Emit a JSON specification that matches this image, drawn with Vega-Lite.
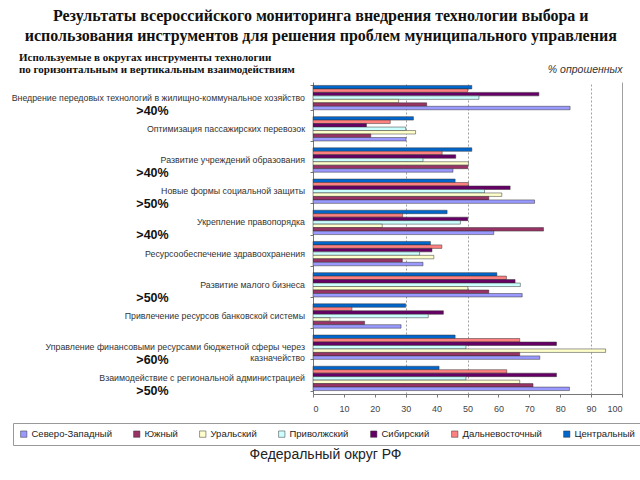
{
  "$schema": "https://vega.github.io/schema/vega-lite/v6.json",
  "padding": {"left": 0, "right": 5, "top": 8, "bottom": 5},
  "background": "white",
  "title": {
    "text": ["Результаты всероссийского мониторинга внедрения технологии выбора и", "использования  инструментов для решения проблем муниципального управления"],
    "font": "Liberation Serif",
    "fontSize": 16,
    "fontWeight": "bold",
    "lineHeight": 20,
    "color": "#111",
    "anchor": "middle",
    "offset": 8
  },
  "datasets": {
    "bars": [
      {"category": "Внедрение передовых технологий в жилищно-коммунальное хозяйство", "region": "Центральный", "value": 51.4},
      {"category": "Внедрение передовых технологий в жилищно-коммунальное хозяйство", "region": "Дальневосточный", "value": 50},
      {"category": "Внедрение передовых технологий в жилищно-коммунальное хозяйство", "region": "Сибирский", "value": 73.1},
      {"category": "Внедрение передовых технологий в жилищно-коммунальное хозяйство", "region": "Приволжский", "value": 53.7},
      {"category": "Внедрение передовых технологий в жилищно-коммунальное хозяйство", "region": "Уральский", "value": 27.7},
      {"category": "Внедрение передовых технологий в жилищно-коммунальное хозяйство", "region": "Южный", "value": 36.8},
      {"category": "Внедрение передовых технологий в жилищно-коммунальное хозяйство", "region": "Северо-Западный", "value": 83.2},
      {"category": "Оптимизация пассажирских перевозок", "region": "Центральный", "value": 32.5},
      {"category": "Оптимизация пассажирских перевозок", "region": "Дальневосточный", "value": 25},
      {"category": "Оптимизация пассажирских перевозок", "region": "Сибирский", "value": 17.3},
      {"category": "Оптимизация пассажирских перевозок", "region": "Приволжский", "value": 30},
      {"category": "Оптимизация пассажирских перевозок", "region": "Уральский", "value": 33.2},
      {"category": "Оптимизация пассажирских перевозок", "region": "Южный", "value": 18.7},
      {"category": "Оптимизация пассажирских перевозок", "region": "Северо-Западный", "value": 30.1},
      {"category": "Развитие учреждений образования", "region": "Центральный", "value": 51.4},
      {"category": "Развитие учреждений образования", "region": "Дальневосточный", "value": 41.8},
      {"category": "Развитие учреждений образования", "region": "Сибирский", "value": 46.2},
      {"category": "Развитие учреждений образования", "region": "Приволжский", "value": 35.6},
      {"category": "Развитие учреждений образования", "region": "Уральский", "value": 50.3},
      {"category": "Развитие учреждений образования", "region": "Южный", "value": 50.1},
      {"category": "Развитие учреждений образования", "region": "Северо-Западный", "value": 45.3},
      {"category": "Новые формы социальной защиты", "region": "Центральный", "value": 46},
      {"category": "Новые формы социальной защиты", "region": "Дальневосточный", "value": 50.3},
      {"category": "Новые формы социальной защиты", "region": "Сибирский", "value": 63.8},
      {"category": "Новые формы социальной защиты", "region": "Приволжский", "value": 55.5},
      {"category": "Новые формы социальной защиты", "region": "Уральский", "value": 61.1},
      {"category": "Новые формы социальной защиты", "region": "Южный", "value": 56.9},
      {"category": "Новые формы социальной защиты", "region": "Северо-Западный", "value": 71.7},
      {"category": "Укрепление правопорядка", "region": "Центральный", "value": 43.4},
      {"category": "Укрепление правопорядка", "region": "Дальневосточный", "value": 29},
      {"category": "Укрепление правопорядка", "region": "Сибирский", "value": 50.1},
      {"category": "Укрепление правопорядка", "region": "Приволжский", "value": 47.7},
      {"category": "Укрепление правопорядка", "region": "Уральский", "value": 22.4},
      {"category": "Укрепление правопорядка", "region": "Южный", "value": 74.6},
      {"category": "Укрепление правопорядка", "region": "Северо-Западный", "value": 58.5},
      {"category": "Ресурсообеспечение здравоохранения", "region": "Центральный", "value": 38},
      {"category": "Ресурсообеспечение здравоохранения", "region": "Дальневосточный", "value": 41.7},
      {"category": "Ресурсообеспечение здравоохранения", "region": "Сибирский", "value": 38.5},
      {"category": "Ресурсообеспечение здравоохранения", "region": "Приволжский", "value": 34.5},
      {"category": "Ресурсообеспечение здравоохранения", "region": "Уральский", "value": 39.1},
      {"category": "Ресурсообеспечение здравоохранения", "region": "Южный", "value": 28.9},
      {"category": "Ресурсообеспечение здравоохранения", "region": "Северо-Западный", "value": 35.6},
      {"category": "Развитие малого бизнеса", "region": "Центральный", "value": 59.5},
      {"category": "Развитие малого бизнеса", "region": "Дальневосточный", "value": 62.6},
      {"category": "Развитие малого бизнеса", "region": "Сибирский", "value": 65.4},
      {"category": "Развитие малого бизнеса", "region": "Приволжский", "value": 67.1},
      {"category": "Развитие малого бизнеса", "region": "Уральский", "value": 50.1},
      {"category": "Развитие малого бизнеса", "region": "Южный", "value": 56.9},
      {"category": "Развитие малого бизнеса", "region": "Северо-Западный", "value": 67.7},
      {"category": "Привлечение ресурсов банковской системы", "region": "Центральный", "value": 30},
      {"category": "Привлечение ресурсов банковской системы", "region": "Дальневосточный", "value": 12.6},
      {"category": "Привлечение ресурсов банковской системы", "region": "Сибирский", "value": 42.2},
      {"category": "Привлечение ресурсов банковской системы", "region": "Приволжский", "value": 37.3},
      {"category": "Привлечение ресурсов банковской системы", "region": "Уральский", "value": 5.5},
      {"category": "Привлечение ресурсов банковской системы", "region": "Южный", "value": 16.7},
      {"category": "Привлечение ресурсов банковской системы", "region": "Северо-Западный", "value": 28.5},
      {"category": "Управление финансовыми ресурсами бюджетной сферы через\nказначейство", "region": "Центральный", "value": 46},
      {"category": "Управление финансовыми ресурсами бюджетной сферы через\nказначейство", "region": "Дальневосточный", "value": 66.9},
      {"category": "Управление финансовыми ресурсами бюджетной сферы через\nказначейство", "region": "Сибирский", "value": 78.8},
      {"category": "Управление финансовыми ресурсами бюджетной сферы через\nказначейство", "region": "Приволжский", "value": 49.5},
      {"category": "Управление финансовыми ресурсами бюджетной сферы через\nказначейство", "region": "Уральский", "value": 94.7},
      {"category": "Управление финансовыми ресурсами бюджетной сферы через\nказначейство", "region": "Южный", "value": 66.9},
      {"category": "Управление финансовыми ресурсами бюджетной сферы через\nказначейство", "region": "Северо-Западный", "value": 73.4},
      {"category": "Взаимодействие с региональной администрацией", "region": "Центральный", "value": 40.8},
      {"category": "Взаимодействие с региональной администрацией", "region": "Дальневосточный", "value": 62.7},
      {"category": "Взаимодействие с региональной администрацией", "region": "Сибирский", "value": 78.8},
      {"category": "Взаимодействие с региональной администрацией", "region": "Приволжский", "value": 49.5},
      {"category": "Взаимодействие с региональной администрацией", "region": "Уральский", "value": 66.9},
      {"category": "Взаимодействие с региональной администрацией", "region": "Южный", "value": 71.2},
      {"category": "Взаимодействие с региональной администрацией", "region": "Северо-Западный", "value": 83}
    ],
    "cats": [
      {"category": "Внедрение передовых технологий в жилищно-коммунальное хозяйство", "note": ">40%"},
      {"category": "Оптимизация пассажирских перевозок", "note": ""},
      {"category": "Развитие учреждений образования", "note": ">40%"},
      {"category": "Новые формы социальной защиты", "note": ">50%"},
      {"category": "Укрепление правопорядка", "note": ">40%"},
      {"category": "Ресурсообеспечение здравоохранения", "note": ""},
      {"category": "Развитие малого бизнеса", "note": ">50%"},
      {"category": "Привлечение ресурсов банковской системы", "note": ""},
      {"category": "Управление финансовыми ресурсами бюджетной сферы через\nказначейство", "note": ">60%"},
      {"category": "Взаимодействие с региональной администрацией", "note": ">50%"}
    ]
  },
  "bounds": "flush",
  "spacing": 8,
  "hconcat": [
    {
      "width": 305,
      "height": 312,
      "data": {"name": "cats"},
      "title": {
        "text": ["Используемые в округах инструменты технологии", "по горизонтальным и вертикальным взаимодействиям"],
        "font": "Liberation Serif",
        "fontSize": 11,
        "fontWeight": "bold",
        "lineHeight": 12,
        "color": "#111",
        "anchor": "start",
        "dx": 19,
        "offset": 7
      },
      "layer": [
        {
          "mark": {"type": "text", "align": "right", "baseline": "middle", "font": "Liberation Sans", "fontSize": 8.8, "color": "#333", "lineBreak": "\n", "lineHeight": 11},
          "encoding": {
            "y": {"field": "category", "type": "nominal", "sort": null, "axis": null, "scale": {"paddingInner": 0.22, "paddingOuter": 0.11}},
            "x": {"value": "width"},
            "text": {"field": "category"}
          }
        },
        {
          "mark": {"type": "text", "align": "center", "baseline": "middle", "font": "Liberation Sans", "fontSize": 12.5, "fontWeight": "bold", "color": "#111", "dy": 13},
          "encoding": {
            "y": {"field": "category", "type": "nominal", "sort": null, "axis": null, "scale": {"paddingInner": 0.22, "paddingOuter": 0.11}},
            "text": {"field": "note"}
          }
        }
      ]
    },
    {
      "width": 309,
      "height": 312,
      "data": {"name": "bars"},
      "title": {
        "text": "% опрошенных",
        "font": "Liberation Sans",
        "fontSize": 10.5,
        "fontStyle": "italic",
        "fontWeight": "normal",
        "color": "#333",
        "anchor": "end",
        "offset": 7
      },
      "mark": {"type": "bar", "stroke": "#333", "strokeWidth": 0.5},
      "encoding": {
        "y": {
          "field": "category", "type": "nominal", "sort": null,
          "scale": {"paddingInner": 0.22, "paddingOuter": 0.11},
          "axis": {"labels": false, "title": null, "ticks": true, "tickBand": "extent", "tickSize": 3, "tickColor": "#777", "domainColor": "#777"}
        },
        "yOffset": {
          "field": "region", "type": "nominal",
          "sort": ["Центральный", "Дальневосточный", "Сибирский", "Приволжский", "Уральский", "Южный", "Северо-Западный"],
          "scale": {"paddingInner": 0, "paddingOuter": 0}
        },
        "x": {
          "field": "value", "type": "quantitative",
          "scale": {"domain": [0, 100], "nice": false},
          "axis": {
            "values": [0, 10, 20, 30, 40, 50, 60, 70, 80, 90, 100],
            "title": "Федеральный округ РФ",
            "titleFont": "Liberation Sans",
            "titleFontSize": 14,
            "titleFontWeight": "normal",
            "titleColor": "#222",
            "titleX": 12,
            "titleY": 60,
            "titleAlign": "center",
            "titleBaseline": "middle",
            "labelFont": "Liberation Sans",
            "labelFontSize": 9,
            "labelColor": "#444",
            "labelPadding": 7,
            "tickSize": 3,
            "tickColor": "#777",
            "domainColor": "#777",
            "grid": true,
            "gridColor": "#888",
            "gridWidth": 0.8,
            "gridOpacity": {"condition": {"test": "datum.value == 30 || datum.value == 50 || datum.value == 90 || datum.value == 100", "value": 1}, "value": 0},
            "gridDash": {"condition": {"test": "datum.value == 100", "value": []}, "value": [2, 2]}
          }
        },
        "color": {
          "field": "region", "type": "nominal",
          "scale": {
            "domain": ["Северо-Западный", "Южный", "Уральский", "Приволжский", "Сибирский", "Дальневосточный", "Центральный"],
            "range": ["#9999FF", "#993366", "#FFFFCC", "#CCFFFF", "#660066", "#FF8080", "#0066CC"]
          },
          "legend": {
            "title": null,
            "orient": "none",
            "legendX": 13,
            "legendY": 341,
            "direction": "horizontal",
            "symbolType": "square",
            "symbolSize": 40,
            "symbolStrokeColor": "#333",
            "symbolStrokeWidth": 0.5,
            "labelFont": "Liberation Sans",
            "labelFontSize": 9.5,
            "labelColor": "#222",
            "labelOffset": 3,
            "columnPadding": 20,
            "strokeColor": "#999",
            "padding": 6
          }
        }
      }
    }
  ],
  "config": {
    "view": {"stroke": null}
  }
}
